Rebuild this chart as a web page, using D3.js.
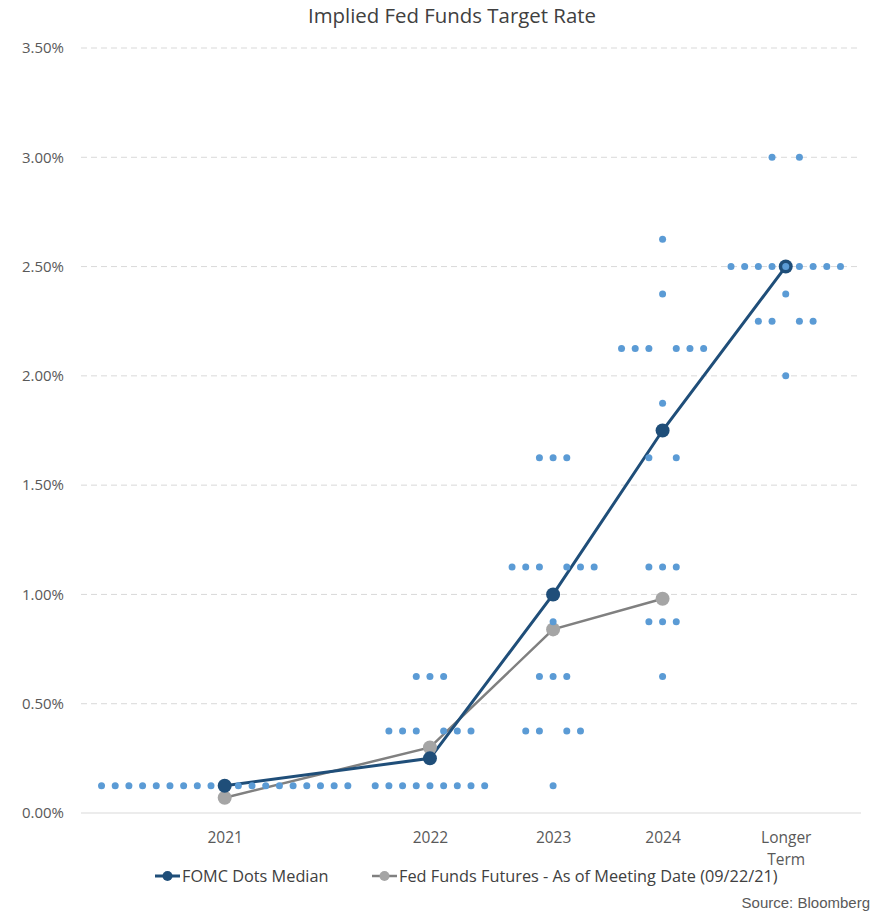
<!DOCTYPE html>
<html>
<head>
<meta charset="utf-8">
<script src="https://cdn.jsdelivr.net/npm/d3@7"></script>
<style>
  html, body { margin: 0; padding: 0; background: #fff; }
  svg { display: block; }
  .calib { font-family: "Liberation Sans Narrow", "Open Sans", "Noto Sans", sans-serif; }
</style>
</head>
<body>
<svg id="chart" width="885" height="916"></svg>
<script>
// ---- Data ----
const categories = ["2021", "2022", "2023", "2024", "Longer Term"];
const categoryLabels = [["2021"], ["2022"], ["2023"], ["2024"], ["Longer", "Term"]];

// FOMC participant dots: [rate %, number of participants]
const dots2021 = [[0.125, 18]];
const dots2022 = [[0.125, 9], [0.375, 6], [0.625, 3]];
const dots2023 = [[0.125, 1], [0.375, 4], [0.625, 3], [0.875, 1], [1.125, 6], [1.625, 3]];
const dots2024 = [[0.625, 1], [0.875, 3], [1.125, 3], [1.625, 2], [1.875, 1], [2.125, 6], [2.375, 1], [2.625, 1]];
const dotsLonger = [[2.0, 1], [2.25, 4], [2.375, 1], [2.5, 9], [3.0, 2]];
const dotGroups = [dots2021, dots2022, dots2023, dots2024, dotsLonger];

const fomcMedian = [0.125, 0.25, 1.0, 1.75, 2.5];
const futures = [0.07, 0.30, 0.84, 0.98]; // 2021-2024

const yTicks = [0, 0.5, 1.0, 1.5, 2.0, 2.5, 3.0, 3.5];

// ---- Layout: dot offsets & category centers (in dot-slot units) ----
function offsets(n) {
  const out = [];
  if (n % 2 === 1) { const h = (n - 1) / 2; for (let i = -h; i <= h; i++) out.push(i); }
  else { const h = n / 2; for (let i = -h; i <= h; i++) if (i !== 0) out.push(i); }
  return out;
}
function halfWidth(n) { return n % 2 === 1 ? (n - 1) / 2 : n / 2; }
const groupHW = dotGroups.map(g => d3.max(g, d => halfWidth(d[1])));
const centers = [];
groupHW.forEach((hw, i) => {
  if (i === 0) centers.push(0);
  else centers.push(centers[i - 1] + groupHW[i - 1] + 2 + hw);
});

const dotPoints = [];
dotGroups.forEach((g, ci) => {
  g.forEach(([rate, n]) => {
    offsets(n).forEach(o => dotPoints.push({ x: centers[ci] + o, y: rate }));
  });
});

// ---- Scales ----
const x = d3.scaleLinear()
  .domain([centers[0] - groupHW[0] - 1.5, centers[4] + groupHW[4] + 1.5])
  .range([81, 861]);
const y = d3.scaleLinear().domain([0, 3.5]).range([813, 48]);

const svg = d3.select("#chart");

// Title
svg.append("text").attr("class", "calib")
  .attr("x", 452).attr("y", 23)
  .attr("text-anchor", "middle")
  .attr("font-size", 20.4).attr("fill", "#404040")
  .text("Implied Fed Funds Target Rate");

// Gridlines
svg.append("g").selectAll("line").data(yTicks).join("line")
  .attr("x1", x.range()[0]).attr("x2", x.range()[1])
  .attr("y1", d => y(d)).attr("y2", d => y(d))
  .attr("stroke", "#d9d9d9").attr("stroke-width", 1)
  .attr("stroke-dasharray", d => d === 0 ? null : "6,4");

// Y axis labels
const yAxis = d3.axisLeft(y).tickValues(yTicks).tickSize(0).tickPadding(0)
  .tickFormat(d => d3.format(".2f")(d) + "%");
const yg = svg.append("g").attr("transform", "translate(64,0)").call(yAxis);
yg.select(".domain").remove();
yg.selectAll("text").attr("class", "calib").attr("font-size", 15).attr("fill", "#595959");

// X axis labels
const xAxis = d3.axisBottom(x).tickValues(centers).tickSize(0).tickFormat("");
const xg = svg.append("g").attr("transform", "translate(0,813)").call(xAxis);
xg.select(".domain").remove();
xg.selectAll(".tick").each(function(d, i) {
  const t = d3.select(this).append("text").attr("class", "calib")
    .attr("text-anchor", "middle").attr("font-size", 15.5).attr("fill", "#595959");
  categoryLabels[i].forEach((line, j) => {
    t.append("tspan").attr("x", 0).attr("y", 30 + j * 22).text(line);
  });
});

// Lines
const fomcPts = fomcMedian.map((v, i) => [x(centers[i]), y(v)]);
const futPts = futures.map((v, i) => [x(centers[i]), y(v)]);
const line = d3.line();

svg.append("path").attr("d", line(futPts))
  .attr("fill", "none").attr("stroke", "#808080").attr("stroke-width", 2.5);
svg.append("path").attr("d", line(fomcPts))
  .attr("fill", "none").attr("stroke", "#1F4E79").attr("stroke-width", 3);

svg.append("g").selectAll("circle").data(futPts).join("circle")
  .attr("cx", d => d[0]).attr("cy", d => d[1]).attr("r", 7)
  .attr("fill", "#A5A5A5");
svg.append("g").selectAll("circle").data(fomcPts).join("circle")
  .attr("cx", d => d[0]).attr("cy", d => d[1]).attr("r", 7)
  .attr("fill", "#1F4E79");

// Participant dots
svg.append("g").selectAll("circle").data(dotPoints).join("circle")
  .attr("cx", d => x(d.x)).attr("cy", d => y(d.y)).attr("r", 3.5)
  .attr("fill", "#5B9BD5");

// Legend
const leg = svg.append("g");
leg.append("line").attr("x1", 155).attr("x2", 180).attr("y1", 876).attr("y2", 876)
  .attr("stroke", "#1F4E79").attr("stroke-width", 3);
leg.append("circle").attr("cx", 167.5).attr("cy", 876).attr("r", 5).attr("fill", "#1F4E79");
leg.append("text").attr("class", "calib").attr("x", 182).attr("y", 881.5)
  .attr("font-size", 16.3).attr("fill", "#404040").text("FOMC Dots Median");
leg.append("line").attr("x1", 372).attr("x2", 397).attr("y1", 876).attr("y2", 876)
  .attr("stroke", "#808080").attr("stroke-width", 2.5);
leg.append("circle").attr("cx", 384.5).attr("cy", 876).attr("r", 5).attr("fill", "#A5A5A5");
leg.append("text").attr("class", "calib").attr("x", 399).attr("y", 881.5)
  .attr("font-size", 16.3).attr("fill", "#404040").text("Fed Funds Futures - As of Meeting Date (09/22/21)");

// Source
svg.append("text").attr("x", 870).attr("y", 908)
  .attr("text-anchor", "end")
  .attr("font-family", "Liberation Sans, Arial, sans-serif")
  .attr("font-size", 15).attr("fill", "#595959")
  .text("Source: Bloomberg");
</script>
</body>
</html>
